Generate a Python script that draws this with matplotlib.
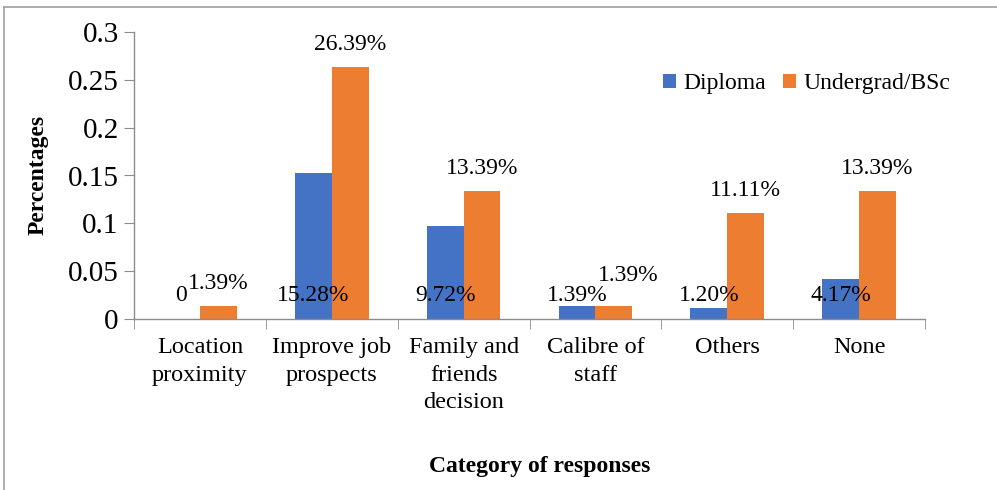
import numpy as np
import matplotlib
matplotlib.use("Agg")
import matplotlib.pyplot as plt
from matplotlib.lines import Line2D

categories = ["Location\nproximity", "Improve job\nprospects", "Family and\nfriends\ndecision",
              "Calibre of\nstaff", "Others", "None"]
diploma = [0.0, 0.1528, 0.0972, 0.0139, 0.0120, 0.0417]
undergrad = [0.0139, 0.2639, 0.1339, 0.0139, 0.1111, 0.1339]
diploma_labels = ["0", "15.28%", "9.72%", "1.39%", "1.20%", "4.17%"]
undergrad_labels = ["1.39%", "26.39%", "13.39%", "1.39%", "11.11%", "13.39%"]

plt.rcParams["font.family"] = ["Liberation Serif", "DejaVu Serif"]
blue = "#4472C4"
orange = "#ED7D31"
axis_grey = "#8c8c8c"

fig = plt.figure(figsize=(9.97, 4.9), dpi=100)
ax = fig.add_axes([134 / 997, 1 - 319 / 490, (925 - 134) / 997, (319 - 32) / 490])

x = np.arange(len(categories))
w = 0.28
ax.bar(x - w / 2, diploma, w, color=blue, label="Diploma")
ax.bar(x + w / 2, undergrad, w, color=orange, label="Undergrad/BSc")

for i in range(len(categories)):
    ax.text(x[i] - w / 2, 0.025, diploma_labels[i], ha="center", va="center", fontsize=17)
    # Excel nudged the Calibre orange label up/right so it does not collide
    dx, dy = (0.11, 0.009) if i == 3 else (0, 0)
    ax.text(x[i] + w / 2 + dx, undergrad[i] + 0.023 + dy, undergrad_labels[i],
            ha="center", va="center", fontsize=17)

ax.set_xlim(-0.5, len(categories) - 0.5)
ax.set_ylim(0, 0.3)
ax.set_yticks([0, 0.05, 0.1, 0.15, 0.2, 0.25, 0.3])
ax.set_yticklabels(["0", "0.05", "0.1", "0.15", "0.2", "0.25", "0.3"], fontsize=21)
ax.set_xticks(x)
ax.set_xticklabels(categories, fontsize=17.5, linespacing=1.42, va="top")
ax.set_xticks(np.arange(-0.5, len(categories)), minor=True)
ax.tick_params(axis="x", which="major", length=0, pad=13)
ax.tick_params(axis="x", which="minor", length=7, color=axis_grey, direction="out")
ax.tick_params(axis="y", length=7, color=axis_grey, direction="out", pad=4)

for side in ["top", "right"]:
    ax.spines[side].set_visible(False)
for side in ["left", "bottom"]:
    ax.spines[side].set_color(axis_grey)
    ax.spines[side].set_linewidth(1)

fig.text(38 / 997, 1 - 175 / 490, "Percentages", rotation=90, ha="center", va="center",
         fontsize=17, fontweight="bold")
fig.text(540 / 997, 1 - 466 / 490, "Category of responses", ha="center", va="center",
         fontsize=17, fontweight="bold")

ax.legend(loc="upper right", bbox_to_anchor=(1.059, 0.93), ncol=2, frameon=False, fontsize=17,
          handlelength=0.55, handleheight=0.55, handletextpad=0.3, columnspacing=0.75)

# outer frame (top and left edges visible in the crop)
fig.add_artist(Line2D([4 / 997, 1], [1 - 7 / 490, 1 - 7 / 490], color="#a0a0a0", lw=1.2))
fig.add_artist(Line2D([4 / 997, 4 / 997], [0, 1 - 7 / 490], color="#a0a0a0", lw=1.2))

fig.savefig("out.png", dpi=100)
